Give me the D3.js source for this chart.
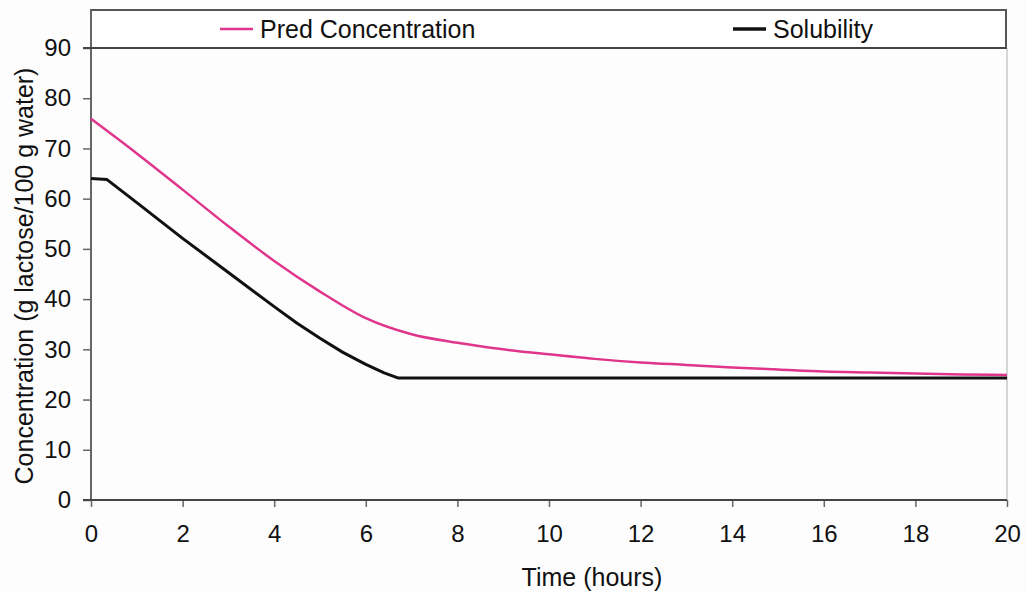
<!DOCTYPE html>
<html>
<head>
<meta charset="utf-8">
<script src="https://cdn.jsdelivr.net/npm/d3@7"></script>
<style>
html,body{margin:0;padding:0;background:#fdfdfd;}
svg{display:block;}
text{font-family:"Liberation Sans",Arial,sans-serif;fill:#111;}
</style>
</head>
<body>
<svg id="chart" width="1026" height="592"></svg>
<script>
const predTime = [0,1,2,3,4,5,6,7,8,9,10,11,12,13,14,15,16,17,18,19,20];
const predConc = [75.9,69.0,61.8,54.5,47.6,41.5,36.2,33.0,31.3,30.0,29.0,28.1,27.4,26.9,26.4,26.0,25.6,25.4,25.2,25.0,24.9];
const solTime = [0,0.35,1,2,3,4,4.5,5,5.5,6,6.4,6.7,20];
const solConc = [64.0,63.8,59.2,52.1,45.3,38.5,35.2,32.2,29.4,27.0,25.3,24.3,24.3];
const xTicks = [0,2,4,6,8,10,12,14,16,18,20];
const yTicks = [0,10,20,30,40,50,60,70,80,90];
const seriesNames = ["Pred Concentration","Solubility"];

const svg = d3.select("#chart");
const mLeft = 91, mRight = 1007, mTop = 48, mBottom = 500;
const x = d3.scaleLinear().domain([0,20]).range([mLeft,mRight]);
const y = d3.scaleLinear().domain([0,90]).range([mBottom,mTop]);

// right light border
svg.append("line").attr("x1",mRight).attr("x2",mRight).attr("y1",mTop).attr("y2",mBottom)
  .attr("stroke","#c8c8c8").attr("stroke-width",1.5);

// legend box
svg.append("rect").attr("x",mLeft).attr("y",10).attr("width",1006-mLeft).attr("height",mTop-10)
  .attr("fill","#fff").attr("stroke","#555").attr("stroke-width",2);

// y axis
const yAxis = svg.append("g").attr("transform",`translate(${mLeft},0)`)
  .call(d3.axisLeft(y).tickValues(yTicks).tickSize(8).tickPadding(12).tickFormat(d3.format("d")));
yAxis.select(".domain").remove();
yAxis.selectAll(".tick line").attr("stroke","#666").attr("stroke-width",1.5);
yAxis.selectAll(".tick text").style("font-size","24px").attr("fill","#111");
svg.append("line").attr("x1",mLeft).attr("x2",mLeft).attr("y1",10).attr("y2",mBottom)
  .attr("stroke","#666").attr("stroke-width",2);
// top line at 90
svg.append("line").attr("x1",mLeft-8).attr("x2",1006).attr("y1",y(90)).attr("y2",y(90))
  .attr("stroke","#444").attr("stroke-width",2);

// x axis
const xAxis = svg.append("g").attr("transform",`translate(0,${mBottom})`)
  .call(d3.axisBottom(x).tickValues(xTicks).tickSize(7).tickPadding(18).tickFormat(d3.format("d")));
xAxis.select(".domain").remove();
xAxis.selectAll(".tick line").attr("stroke","#666").attr("stroke-width",1.5);
xAxis.selectAll(".tick text").style("font-size","24px").attr("fill","#111");
svg.append("line").attr("x1",mLeft-8).attr("x2",mRight).attr("y1",mBottom).attr("y2",mBottom)
  .attr("stroke","#444").attr("stroke-width",2);

// lines
const predData = predTime.map((t,i)=>[t,predConc[i]]);
const solData = solTime.map((t,i)=>[t,solConc[i]]);
svg.append("path").datum(predData)
  .attr("d", d3.line().x(d=>x(d[0])).y(d=>y(d[1])).curve(d3.curveMonotoneX))
  .attr("fill","none").attr("stroke","#e0358c").attr("stroke-width",2.5);
svg.append("path").datum(solData)
  .attr("d", d3.line().x(d=>x(d[0])).y(d=>y(d[1])))
  .attr("fill","none").attr("stroke","#111").attr("stroke-width",3).attr("stroke-linejoin","round");

// legend entries
const leg = [
  {name:seriesNames[0], color:"#e0358c", x0:220, w:2.5},
  {name:seriesNames[1], color:"#111", x0:733, w:3.5}
];
leg.forEach(l=>{
  svg.append("line").attr("x1",l.x0).attr("x2",l.x0+33).attr("y1",29).attr("y2",29)
    .attr("stroke",l.color).attr("stroke-width",l.w);
  svg.append("text").attr("x",l.x0+40).attr("y",38).style("font-size","25px").text(l.name);
});

// axis titles
svg.append("text").attr("x",592).attr("y",586).attr("text-anchor","middle")
  .style("font-size","25px").text("Time (hours)");
svg.append("text").attr("transform","translate(33,276) rotate(-90)").attr("text-anchor","middle")
  .style("font-size","25px").text("Concentration (g lactose/100 g water)");
</script>
</body>
</html>
